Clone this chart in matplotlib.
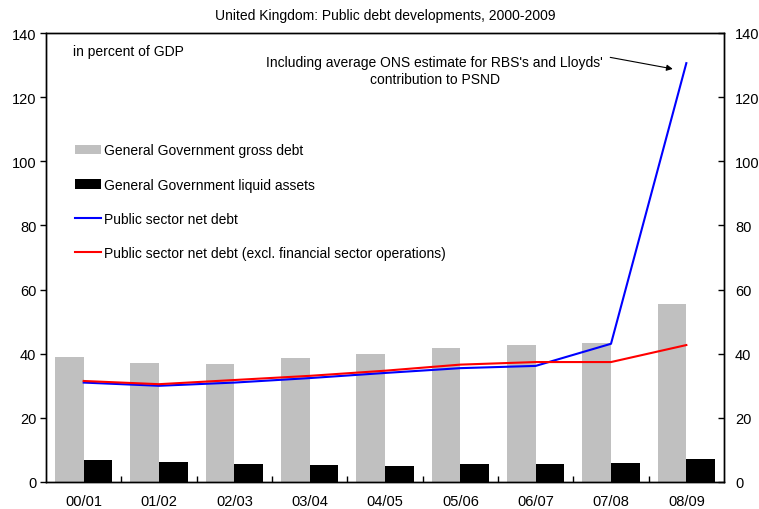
'''
United Kingdom public debt developments, 2000-2009
'''
import matplotlib
matplotlib.use('Agg')
import matplotlib.pyplot as plt
import numpy as np
from matplotlib.patches import Patch
from matplotlib.lines import Line2D

plt.rcParams['font.family'] = ['Liberation Sans', 'DejaVu Sans']

years = ['00/01', '01/02', '02/03', '03/04', '04/05', '05/06', '06/07', '07/08', '08/09']
gross_debt = [39.0, 37.1, 36.8, 38.7, 39.9, 41.8, 42.7, 43.3, 55.5]
liquid_assets = [6.9, 6.2, 5.6, 5.3, 5.0, 5.6, 5.6, 5.9, 7.2]
psnd = [31.0, 30.0, 31.0, 32.4, 34.0, 35.5, 36.2, 43.1, 130.6]
psnd_excl = [31.5, 30.5, 31.8, 33.1, 34.7, 36.6, 37.4, 37.4, 42.7]


def plotDebt():
    fig = plt.figure(figsize=(7.59, 5.10), dpi=100)
    ax = fig.add_axes([46 / 759, 1 - 483 / 510, 678 / 759, 449 / 510])
    x = np.arange(len(years))

    ax.bar(x - 0.19, gross_debt, width=0.38, color='#c0c0c0', zorder=2)
    ax.bar(x + 0.19, liquid_assets, width=0.38, color='black', zorder=2)
    ax.plot(x, psnd, color='blue', lw=1.5, zorder=3)
    ax.plot(x, psnd_excl, color='red', lw=1.5, zorder=3)

    ax.set_xlim(-0.5, len(years) - 0.5)
    ax.set_ylim(0, 140)
    ax.set_yticks(range(0, 141, 20))
    ax.set_xticks(x)
    ax.set_xticklabels(years, fontsize=10.5)
    ax.set_xticks(x[:-1] + 0.5, minor=True)
    ax.tick_params(axis='x', which='major', length=0, pad=9)
    ax.tick_params(axis='x', which='minor', direction='in', length=4, width=1)
    ax.tick_params(axis='y', direction='out', length=4, width=1, labelsize=10.5, pad=3)

    ax2 = ax.twinx()
    ax2.set_ylim(0, 140)
    ax2.set_yticks(range(0, 141, 20))
    ax2.tick_params(axis='y', direction='in', length=4, width=1, labelsize=10.5, pad=8)

    for a in (ax, ax2):
        for s in a.spines.values():
            s.set_linewidth(1)

    ax.set_title('United Kingdom: Public debt developments, 2000-2009', fontsize=10, pad=10)
    ax.text(-0.14, 134.4, 'in percent of GDP', fontsize=10, va='center', ha='left')

    ax.text(4.66, 128.3, "Including average ONS estimate for RBS's and Lloyds'\ncontribution to PSND",
            fontsize=10, ha='center', va='center', linespacing=1.25)
    ax.annotate('', xy=(7.82, 128.8), xytext=(6.99, 132.4),
                arrowprops=dict(arrowstyle='-|>', lw=0.8, color='black',
                                mutation_scale=9, shrinkA=0, shrinkB=0))

    handles = [
        Patch(facecolor='#c0c0c0', label='General Government gross debt'),
        Patch(facecolor='black', label='General Government liquid assets'),
        Line2D([], [], color='blue', lw=1.5, label='Public sector net debt'),
        Line2D([], [], color='red', lw=1.5,
               label='Public sector net debt (excl. financial sector operations)'),
    ]
    ax.legend(handles=handles, loc='upper left', bbox_to_anchor=(0.0428, 0.754),
              frameon=False, fontsize=10, handlelength=1.9, handletextpad=0.2,
              labelspacing=1.45, borderpad=0, borderaxespad=0)

    fig.savefig('out.png', dpi=100)


if __name__ == '__main__':
    plotDebt()
